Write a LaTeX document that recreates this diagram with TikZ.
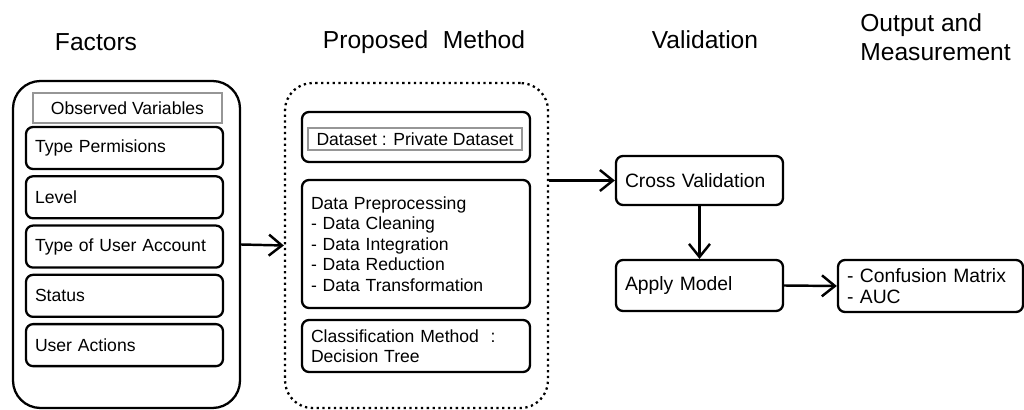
\documentclass[tikz,border=0pt]{standalone}
\usepackage{fontspec}
\setmainfont{Liberation Sans}
\usepackage{tikz}
\usetikzlibrary{positioning, arrows.meta, calc}
\definecolor{grisito}{RGB}{150,150,150}
\tikzset{>={Straight Barb[length=2.6mm,width=4.2mm,line width=1.4pt]}}
\tikzset{
  heading/.style = {font=\fontsize{14}{16.5}\selectfont, inner sep=0pt},
  outerbox/.style = {draw, line width=1.3pt, rounded corners=0.55cm},
  itembox/.style = {draw, line width=1.3pt, rounded corners=0.14cm, align=left,
    font=\fontsize{10}{11.5}\selectfont, inner xsep=0.18cm, inner ysep=0pt},
  bigitem/.style = {itembox, font=\fontsize{11}{13}\selectfont},
  labelbox/.style = {draw=grisito, line width=0.9pt, font=\fontsize{10}{12}\selectfont, inner sep=0pt},
  link/.style = {->, line width=1.4pt}
}

\begin{document}
\begin{tikzpicture}
        \useasboundingbox (0,0) rectangle (20.48,-8.2);

        % Headings
        \node[heading] (hfac) at (1.92,-0.84) {Factors};
        \node[heading] (hprop) at (8.48,-0.84) {Proposed\hspace{0.6em}Method};
        \node[heading] (hval) at (14.1,-0.8) {Validation};
        \node[heading, anchor=west, align=left] (hout) at (17.2,-0.75) {Output and\\Measurement};

        % Factors: observed variables
        \node[outerbox, minimum width=4.54cm, minimum height=6.54cm] (fac) at (2.53,-4.89) {};
        \node[labelbox, minimum width=3.78cm, minimum height=0.6cm] (obs) at (2.55,-2.16) {Observed Variables};
        \node[itembox, minimum width=3.94cm, minimum height=0.84cm, text width=3.58cm] (v1) at (2.49,-2.96) {Type Permisions};
        \foreach \i/\prev/\txt in {2/1/Level, 3/2/Type of User Account, 4/3/Status, 5/4/User Actions}{
          \node[itembox, minimum width=3.94cm, minimum height=0.84cm, text width=3.58cm,
                below=0.1cm of v\prev] (v\i) {\txt};
        }

        % Proposed method
        \node[outerbox, dotted, line width=1.3pt, minimum width=5.26cm, minimum height=6.5cm] (prop) at (8.33,-4.91) {};
        \node[itembox, minimum width=4.56cm, minimum height=1.0cm] (ds) at (8.32,-2.74) {};
        \node[labelbox, minimum width=4.28cm, minimum height=0.45cm] (dsin) at (8.3,-2.78) {Dataset : Private Dataset};
        \node[itembox, minimum width=4.56cm, minimum height=2.56cm, text width=4.2cm,
              font=\fontsize{10}{11.6}\selectfont] (pre) at (8.32,-4.88)
              {Data Preprocessing\\- Data Cleaning\\- Data Integration\\- Data Reduction\\- Data Transformation};
        \node[itembox, minimum width=4.56cm, minimum height=1.04cm, text width=4.2cm] (cls) at (8.32,-6.92)
              {Classification Method\ \ :\\Decision Tree};

        % Validation
        \node[bigitem, minimum width=3.34cm, minimum height=0.98cm, text width=2.98cm] (cv) at (13.99,-3.61) {Cross Validation};
        \node[bigitem, minimum width=3.34cm, minimum height=1.02cm, text width=2.98cm] (app) at (13.99,-5.71) {Apply Model};

        % Output
        \node[bigitem, minimum width=3.7cm, minimum height=1.04cm, text width=3.34cm,
              font=\fontsize{11}{11.5}\selectfont] (out) at (18.61,-5.72)
              {- Confusion Matrix\\- AUC};

        % Connectors
        \draw[link] (fac.east) -- (prop.west);
        \draw[link] (prop.east |- cv.west) -- (cv.west);
        \draw[link] (cv.south) -- (app.north);
        \draw[link] (app.east) -- (out.west);
\end{tikzpicture}
\end{document}
